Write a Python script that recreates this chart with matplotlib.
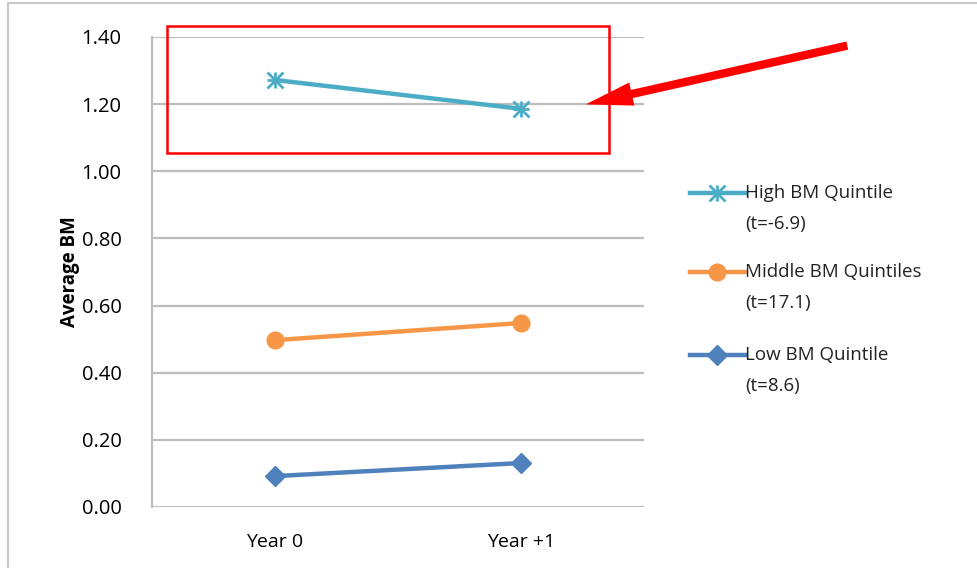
import matplotlib
matplotlib.use("Agg")
import matplotlib.pyplot as plt
from matplotlib.lines import Line2D
from matplotlib.patches import Rectangle, FancyArrowPatch

# Data
categories = ["Year 0", "Year +1"]
high_bm = [1.272, 1.186]
middle_bm = [0.497, 0.548]
low_bm = [0.092, 0.131]
series_labels = ["High BM Quintile", "Middle BM Quintiles", "Low BM Quintile"]
t_stats = ["(t=-6.9)", "(t=17.1)", "(t=8.6)"]
y_ticks = [0.0, 0.2, 0.4, 0.6, 0.8, 1.0, 1.2, 1.4]

colors = ["#4BACC6", "#F79646", "#4F81BD"]
markers = ["x", "o", "D"]
marker_sizes = [11, 12, 10]

W, H = 977, 568
plt.rcParams["font.family"] = ["Open Sans", "DejaVu Sans"]

fig = plt.figure(figsize=(W / 100, H / 100), dpi=100)
fig.patch.set_facecolor("white")


def fx(px):
    return px / W


def fy(py):
    return 1 - py / H


ax = fig.add_axes([fx(152), fy(507), (644 - 152) / W, (507 - 37) / H])

x = list(range(len(categories)))
series = [high_bm, middle_bm, low_bm]
for vals, c, m, ms in zip(series, colors, markers, marker_sizes):
    ax.plot(x, vals, color=c, lw=3.2, marker=m, ms=ms, mew=2.0 if m == "x" else 1,
            mec=c, mfc=c, zorder=3, solid_capstyle="round")
    if m == "x":
        ax.plot(x, vals, color=c, lw=0, marker="+", ms=ms + 1, mew=2.0, zorder=3)

ax.set_xlim(-0.5, 1.5)
ax.set_ylim(0, 1.4)
ax.set_yticks(y_ticks)
ax.set_yticklabels([f"{v:.2f}" for v in y_ticks], fontsize=14.5)
ax.set_xticks(x)
ax.set_xticklabels(categories, fontsize=14)
ax.tick_params(axis="y", length=0, pad=22)
ax.tick_params(axis="x", length=0, pad=19)
ax.grid(axis="y", color="#BDBDBD", lw=1.6)
ax.set_axisbelow(True)
for s in ["top", "right", "bottom"]:
    ax.spines[s].set_visible(False)
ax.spines["left"].set_color("#BDBDBD")
ax.spines["left"].set_linewidth(1.6)
ax.set_ylabel("Average BM", fontsize=13.5, fontweight="bold", labelpad=1)

# Legend drawn as line + marker + two-line label
legend_y = [193, 272, 355]
for lab, t, c, m, ms, ly in zip(series_labels, t_stats, colors, markers, marker_sizes, legend_y):
    fig.add_artist(Line2D([fx(690), fx(745)], [fy(ly), fy(ly)], color=c, lw=3.2,
                          transform=fig.transFigure))
    fig.add_artist(Line2D([fx(717)], [fy(ly)], color=c, marker=m, ms=ms,
                          mew=2.0 if m == "x" else 1, mec=c, mfc=c, lw=0,
                          transform=fig.transFigure))
    if m == "x":
        fig.add_artist(Line2D([fx(717)], [fy(ly)], color=c, marker="+", ms=ms + 1,
                              mew=2.0, lw=0, transform=fig.transFigure))
    fig.text(fx(745), fy(ly), lab, fontsize=13.5, va="center", ha="left", color="#222222")
    fig.text(fx(745), fy(ly + 31), t, fontsize=13.5, va="center", ha="left", color="#222222")

# Highlight box around the high-BM series
fig.add_artist(Rectangle((fx(167), fy(153)), fx(609) - fx(167), fy(26) - fy(153),
                         transform=fig.transFigure, fill=False, ec="#FF0000", lw=1.8))

# Pointer arrow
fig.add_artist(FancyArrowPatch((fx(850), fy(45)), (fx(583), fy(105)),
                               transform=fig.transFigure,
                               arrowstyle="simple,head_length=1.7,head_width=0.85,tail_width=0.3",
                               mutation_scale=20, color="#FF0000", lw=0))

# Outer frame
fig.add_artist(Rectangle((fx(8), fy(575)), fx(990) - fx(8), fy(3) - fy(575),
                         transform=fig.transFigure, fill=False, ec="#C8C8C8", lw=1.5))

fig.savefig("out.png", dpi=100)
